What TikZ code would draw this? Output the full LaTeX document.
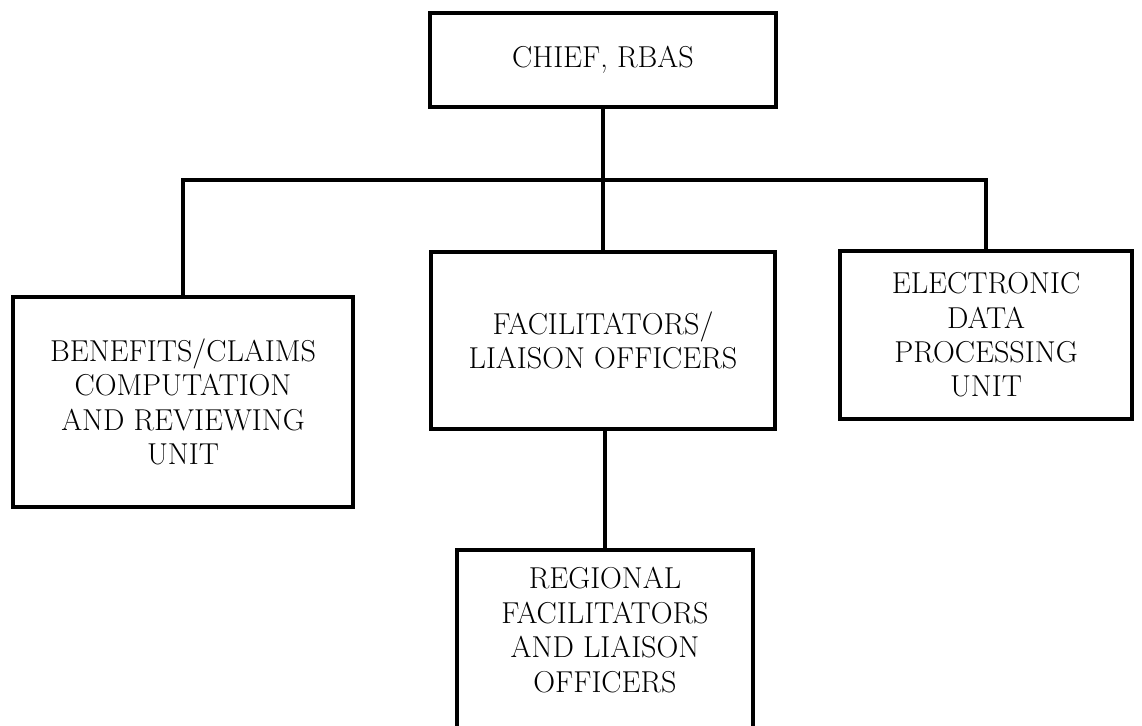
\documentclass[tikz,border=0pt]{standalone}
\usepackage{fontspec}
\usepackage{tikz}
\usetikzlibrary{positioning,calc}

\begin{document}
\begin{tikzpicture}[
  unit/.style={rectangle,draw=black,line width=2.6pt,align=center,inner sep=2pt,
               font=\fontsize{21.5}{24.5}\selectfont},
  lbl/.style={align=center,inner sep=1pt,font=\fontsize{21.5}{24.5}\selectfont},
  link/.style={draw=black,line width=2.6pt}
]
  \useasboundingbox (0,0) rectangle (28.55,18.125);
  \clip (0,0) rectangle (28.55,18.125);

  % --- head of office ---
  \node[unit,minimum width=8.65cm,minimum height=2.35cm] (chief) at (15.075,16.625) {CHIEF, RBAS};

  % --- units under the chief ---
  \node[unit,minimum width=8.5cm,minimum height=5.25cm] (benefits) at (4.575,8.075)
    {BENEFITS/CLAIMS\\COMPUTATION\\AND REVIEWING\\UNIT};
  \node[unit,minimum width=8.6cm,minimum height=4.425cm] (facil) at (15.075,9.6125)
    {FACILITATORS/\\LIAISON OFFICERS};
  \node[unit,minimum width=7.3cm,minimum height=4.2cm] (edp) at (24.65,9.75)
    {ELECTRONIC\\DATA\\PROCESSING\\UNIT};

  % --- regional officers (box runs off the page) ---
  \node[unit,minimum width=7.4cm,minimum height=5.75cm] (regional) at (15.125,1.5) {};
  \node[lbl] (regionaltxt) at (15.125,2.375)
    {REGIONAL\\FACILITATORS\\AND LIAISON\\OFFICERS};

  % --- connectors ---
  \coordinate (bus) at (15.075,13.625);
  \draw[link] (chief.south) -- (bus);
  \draw[link] (benefits.north) |- (bus) -| (edp.north);
  \draw[link] (bus) -- (facil.north);
  \draw[link] (facil.south -| regional.north) -- (regional.north);
\end{tikzpicture}
\end{document}
